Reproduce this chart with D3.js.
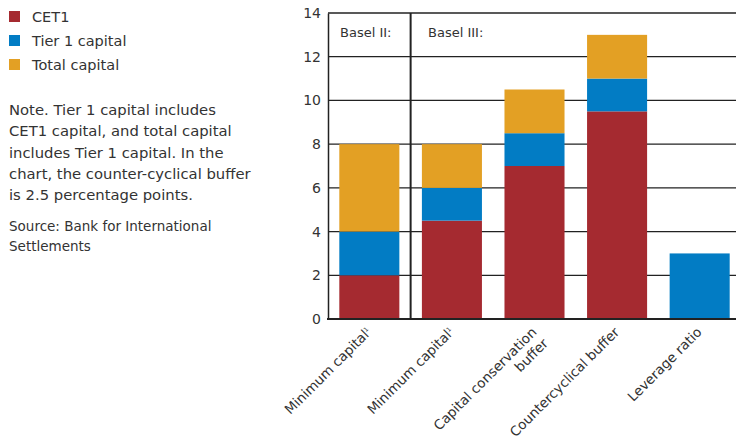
<!DOCTYPE html>
<html>
<head>
<meta charset="utf-8">
<script src="https://cdn.jsdelivr.net/npm/d3@7"></script>
<style>
  body { margin: 0; background: #fff; }
  svg text { font-family: "DejaVu Sans", sans-serif; fill: #333; }
</style>
</head>
<body>
<div id="chart"></div>
<script>
var categories = ["Minimum capital II", "Minimum capital III", "Capital conservation buffer", "Countercyclical buffer", "Leverage ratio"];
var catLabels = [["Minimum capital"], ["Minimum capital"], ["Capital conservation", "buffer"], ["Countercyclical buffer"], ["Leverage ratio"]];
var catNote = [true, true, false, false, false];
var seriesNames = ["CET1", "Tier 1 capital", "Total capital"];
var seriesColors = ["#a52a30", "#027cc4", "#e3a024"];
// each series as the increment on top of the previous one
var cet1 = [2, 4.5, 7, 9.5, 0];
var tier1 = [2, 1.5, 1.5, 1.5, 3];
var total = [4, 2, 2, 2, 0];
var yTicks = [0, 2, 4, 6, 8, 10, 12, 14];
var noteLines = ["Note. Tier 1 capital includes", "CET1 capital, and total capital", "includes Tier 1 capital. In the", "chart, the counter-cyclical buffer", "is 2.5 percentage points."];
var sourceLines = ["Source: Bank for International", "Settlements"];

var W = 736, H = 441;
var svg = d3.select("#chart").append("svg").attr("width", W).attr("height", H);

var x = d3.scaleBand().domain(categories).range([328, 741]).paddingInner(0.273).paddingOuter(0.137);
var y = d3.scaleLinear().domain([0, 14]).range([319, 13]);

// gridlines
svg.append("g").selectAll("line").data(yTicks.slice(1)).join("line")
  .attr("x1", 328).attr("x2", W).attr("y1", d => y(d)).attr("y2", d => y(d))
  .attr("stroke", "#222").attr("stroke-width", 1.3);

// stacked bars
var rows = categories.map(function (c, i) {
  return { cat: c, s0: cet1[i], s1: tier1[i], s2: total[i] };
});
var stack = d3.stack().keys(["s0", "s1", "s2"])(rows);
svg.append("g").selectAll("g").data(stack).join("g")
  .attr("fill", (d, i) => seriesColors[i])
  .selectAll("rect").data(d => d).join("rect")
  .attr("x", d => x(d.data.cat))
  .attr("width", x.bandwidth())
  .attr("y", d => y(d[1]))
  .attr("height", d => y(d[0]) - y(d[1]));

// axes
var yAxis = svg.append("g").attr("transform", "translate(328,0)")
  .call(d3.axisLeft(y).tickValues(yTicks).tickSize(0).tickPadding(7));
yAxis.select(".domain").attr("stroke", "#222").attr("stroke-width", 1.5);
yAxis.selectAll("text").style("font-size", "14px").attr("fill", "#333");

svg.append("line").attr("x1", 327).attr("x2", W).attr("y1", y(0)).attr("y2", y(0))
  .attr("stroke", "#222").attr("stroke-width", 2);

// Basel II / III separator
var sepX = (x(categories[0]) + x.bandwidth() + x(categories[1])) / 2;
svg.append("line").attr("x1", sepX).attr("x2", sepX).attr("y1", y(14)).attr("y2", y(0))
  .attr("stroke", "#222").attr("stroke-width", 2);
svg.append("text").attr("x", 340).attr("y", 37).style("font-size", "13px").text("Basel II:");
svg.append("text").attr("x", 428).attr("y", 37).style("font-size", "13px").text("Basel III:");

// category labels
var lab = svg.append("g").selectAll("text").data(categories).join("text")
  .attr("transform", d => "translate(" + (x(d) + x.bandwidth() / 2 + 3) + "," + (y(0) + 14) + ") rotate(-45)")
  .attr("text-anchor", "end")
  .style("font-size", "13.5px");
lab.each(function (d, i) {
  var t = d3.select(this);
  catLabels[i].forEach(function (s, j) {
    t.append("tspan").attr("x", 0).attr("dy", j === 0 ? 0 : 16).text(s);
  });
  if (catNote[i]) {
    t.append("tspan").attr("dy", -5).style("font-size", "6px").text("1");
  }
});

// legend
var leg = svg.append("g").selectAll("g").data(seriesNames).join("g")
  .attr("transform", (d, i) => "translate(9," + (11 + i * 24) + ")");
leg.append("rect").attr("width", 11).attr("height", 11).attr("fill", (d, i) => seriesColors[i]);
leg.append("text").attr("x", 23).attr("y", 11).style("font-size", "14.5px").text(d => d);

svg.append("g").selectAll("text").data(noteLines).join("text")
  .attr("x", 9).attr("y", (d, i) => 115 + i * 21.3).style("font-size", "14.8px").text(d => d);
svg.append("g").selectAll("text").data(sourceLines).join("text")
  .attr("x", 9).attr("y", (d, i) => 231 + i * 20).style("font-size", "13.5px").text(d => d);
</script>
</body>
</html>
